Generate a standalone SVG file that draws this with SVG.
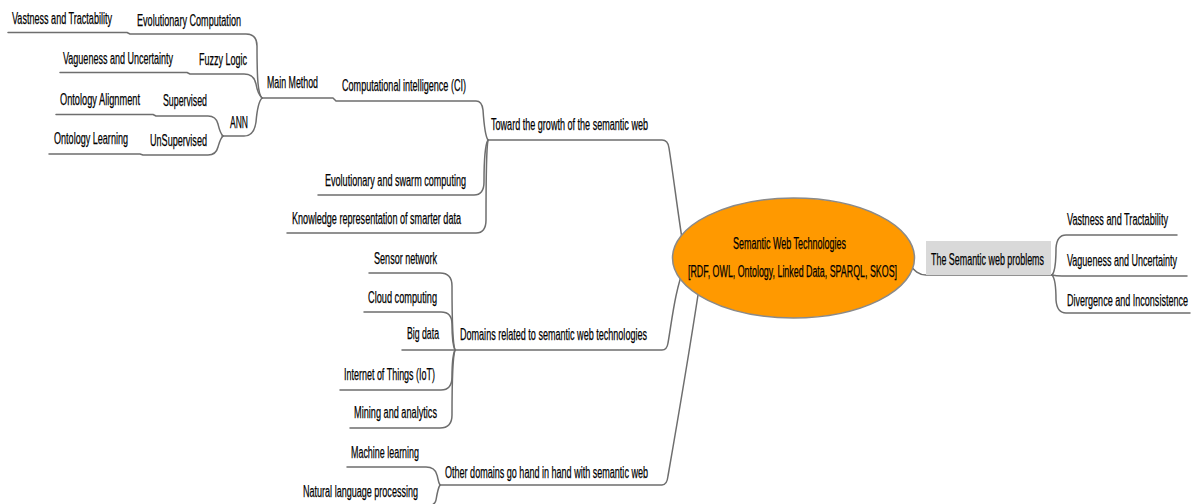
<svg xmlns="http://www.w3.org/2000/svg" width="1200" height="504" viewBox="0 0 1200 504">
<style>
.t{font-family:"Liberation Sans",Arial,sans-serif;font-size:16px;fill:#000;stroke:#000;stroke-width:0.25;}
.c{fill:none;stroke:#6e6e6e;stroke-width:1.5;stroke-linecap:round;stroke-linejoin:round;}
</style>
<rect width="1200" height="504" fill="#fff"/>
<g id="connectors">
<path class="c" d="M 262,98 C 258,94 257,80 257,46 Q 257,34 246,34 H 130 L 127,32.5 H 8"/>
<path class="c" d="M 262,98 C 259,95 257,90 256,84 Q 254,74 244,74 H 190 L 187,72.5 H 60"/>
<path class="c" d="M 262,98 C 259,101 257,110 256,122 Q 254,136 244,136 H 222"/>
<path class="c" d="M 223,136 C 220,133 219,128 218,124 Q 216,116 208,116 H 156 L 153,114.5 H 56"/>
<path class="c" d="M 223,136 C 220,139 219,144 218,147 Q 216,155 208,155 H 143 L 140,154 H 49"/>
<path class="c" d="M 262,98 H 333 L 336,101 H 476 Q 482,101 483,110 C 484,125 485,136 488,140"/>
<path class="c" d="M 488,140 C 485,145 484,160 484,182 Q 484,195 474,195 H 318"/>
<path class="c" d="M 488,140 C 486,150 486,180 486,220 Q 486,233 476,233 H 287"/>
<path class="c" d="M 488,140 H 662 Q 668,140 669,148 C 674,180 678,215 685,258"/>
<path class="c" d="M 455,350 C 453,345 452,330 452,286 Q 452,273 440,273 H 369"/>
<path class="c" d="M 455,350 C 453,346 452,338 452,324 Q 452,312 441,312 H 364"/>
<path class="c" d="M 455,350 H 402"/>
<path class="c" d="M 455,350 C 453,354 452,362 452,377 Q 452,390 441,390 H 340"/>
<path class="c" d="M 455,350 C 453,356 452,370 452,415 Q 452,428 440,428 H 350"/>
<path class="c" d="M 455,350 H 662 Q 667,350 668,343 C 672,320 675,290 685,265"/>
<path class="c" d="M 440,485 C 438,482 438,478 437,475 Q 435,467 426,467 H 347"/>
<path class="c" d="M 440,485 C 438,488 437,494 436,500 Q 435,506 426,506 H 300"/>
<path class="c" d="M 440,485 H 662 Q 667,485 668,476 C 676,430 688,360 698,295"/>
<path class="c" d="M 905,260 C 912,266 915,275 926,275 H 1052"/>
<path class="c" d="M 1052,275 C 1055,272 1056,265 1056,248 Q 1057,235 1066,235 H 1177"/>
<path class="c" d="M 1052,275 Q 1056,276 1062,276 H 1187"/>
<path class="c" d="M 1052,275 C 1055,278 1056,285 1056,300 Q 1057,313 1066,313 H 1190"/>
</g>
<g id="central">
<ellipse cx="793.5" cy="258" rx="121" ry="60" fill="#ff9900" stroke="#8a8a8a" stroke-width="1.5"/>
<text class="t" x="733" y="249" textLength="113" lengthAdjust="spacingAndGlyphs">Semantic Web Technologies</text>
<text class="t" x="688" y="277" textLength="209" lengthAdjust="spacingAndGlyphs">[RDF, OWL, Ontology, Linked Data, SPARQL, SKOS]</text>
</g>
<g id="problems">
<rect x="926" y="241" width="125" height="34" fill="#d9d9d9"/>
<text class="t" x="931" y="265" textLength="113" lengthAdjust="spacingAndGlyphs">The Semantic web problems</text>
</g>
<g id="p-vastness"><text class="t" x="1067" y="225" textLength="101" lengthAdjust="spacingAndGlyphs">Vastness and Tractability</text></g>
<g id="p-vagueness"><text class="t" x="1067" y="266" textLength="110" lengthAdjust="spacingAndGlyphs">Vagueness and Uncertainty</text></g>
<g id="p-divergence"><text class="t" x="1067" y="306" textLength="121" lengthAdjust="spacingAndGlyphs">Divergence and Inconsistence</text></g>
<g id="toward"><text class="t" x="491" y="130" textLength="157" lengthAdjust="spacingAndGlyphs">Toward the growth of the semantic web</text></g>
<g id="ci"><text class="t" x="342" y="91" textLength="124" lengthAdjust="spacingAndGlyphs">Computational intelligence (CI)</text></g>
<g id="main-method"><text class="t" x="267" y="88" textLength="51" lengthAdjust="spacingAndGlyphs">Main Method</text></g>
<g id="evo-comp"><text class="t" x="137" y="26" textLength="104" lengthAdjust="spacingAndGlyphs">Evolutionary Computation</text></g>
<g id="l-vastness"><text class="t" x="12" y="24" textLength="100" lengthAdjust="spacingAndGlyphs">Vastness and Tractability</text></g>
<g id="fuzzy"><text class="t" x="199" y="65" textLength="48" lengthAdjust="spacingAndGlyphs">Fuzzy Logic</text></g>
<g id="l-vagueness"><text class="t" x="63" y="64" textLength="110" lengthAdjust="spacingAndGlyphs">Vagueness and Uncertainty</text></g>
<g id="ann"><text class="t" x="230" y="128" textLength="18" lengthAdjust="spacingAndGlyphs">ANN</text></g>
<g id="supervised"><text class="t" x="163" y="106" textLength="44" lengthAdjust="spacingAndGlyphs">Supervised</text></g>
<g id="onto-align"><text class="t" x="60" y="105" textLength="80" lengthAdjust="spacingAndGlyphs">Ontology Alignment</text></g>
<g id="unsupervised"><text class="t" x="150" y="146" textLength="57" lengthAdjust="spacingAndGlyphs">UnSupervised</text></g>
<g id="onto-learn"><text class="t" x="54" y="144" textLength="74" lengthAdjust="spacingAndGlyphs">Ontology Learning</text></g>
<g id="evo-swarm"><text class="t" x="325" y="186" textLength="141" lengthAdjust="spacingAndGlyphs">Evolutionary and swarm computing</text></g>
<g id="knowledge"><text class="t" x="292" y="224" textLength="169" lengthAdjust="spacingAndGlyphs">Knowledge representation of smarter data</text></g>
<g id="domains"><text class="t" x="460" y="340" textLength="187" lengthAdjust="spacingAndGlyphs">Domains related to semantic web technologies</text></g>
<g id="sensor"><text class="t" x="374" y="264" textLength="63" lengthAdjust="spacingAndGlyphs">Sensor network</text></g>
<g id="cloud"><text class="t" x="368" y="303" textLength="69" lengthAdjust="spacingAndGlyphs">Cloud computing</text></g>
<g id="bigdata"><text class="t" x="407" y="339" textLength="32" lengthAdjust="spacingAndGlyphs">Big data</text></g>
<g id="iot"><text class="t" x="344" y="380" textLength="91" lengthAdjust="spacingAndGlyphs">Internet of Things (IoT)</text></g>
<g id="mining"><text class="t" x="354" y="418" textLength="83" lengthAdjust="spacingAndGlyphs">Mining and analytics</text></g>
<g id="other"><text class="t" x="445" y="478" textLength="203" lengthAdjust="spacingAndGlyphs">Other domains go hand in hand with semantic web</text></g>
<g id="ml"><text class="t" x="351" y="458" textLength="68" lengthAdjust="spacingAndGlyphs">Machine learning</text></g>
<g id="nlp"><text class="t" x="303" y="497" textLength="115" lengthAdjust="spacingAndGlyphs">Natural language processing</text></g>
</svg>
